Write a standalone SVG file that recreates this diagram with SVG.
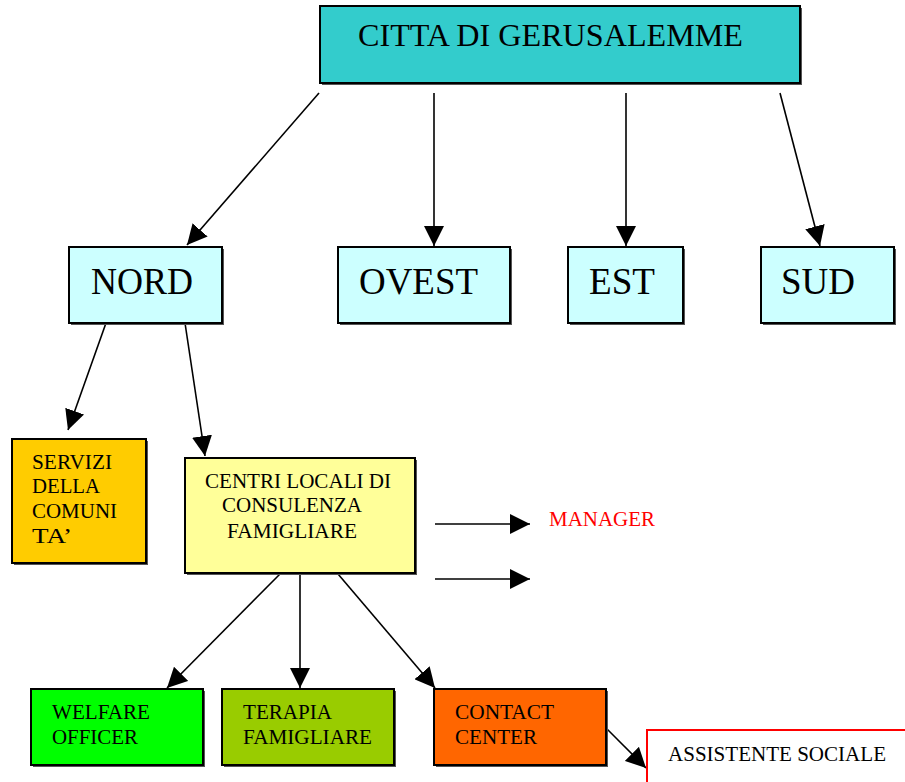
<svg xmlns="http://www.w3.org/2000/svg" width="905" height="782" viewBox="0 0 905 782">
  <defs>
    <marker id="arrow" viewBox="0 0 20 20" refX="20" refY="10" markerWidth="20" markerHeight="20" markerUnits="userSpaceOnUse" orient="auto">
      <path d="M0,0 L20,10 L0,20 Z" fill="#000"/>
    </marker>
  </defs>
  <style>
    .box { stroke: #000; stroke-width: 2; }
    .shadow { fill: #555; }
    text { font-family: "Liberation Serif", "Times New Roman", "DejaVu Serif", "Noto Serif", serif; fill: #000; }
    .big { font-size: 38px; }
    .title { font-size: 31px; }
    .small { font-size: 21px; }
    .edge { stroke: #000; stroke-width: 1.6; fill: none; marker-end: url(#arrow); }
  </style>
  <rect width="905" height="782" fill="#fff"/>

  <g id="connectors">
    <line class="edge" x1="319" y1="93" x2="187" y2="245"/>
    <line class="edge" x1="434" y1="93" x2="434" y2="246"/>
    <line class="edge" x1="626" y1="93" x2="626" y2="246"/>
    <line class="edge" x1="780" y1="93" x2="820" y2="246"/>
    <line class="edge" x1="106" y1="323" x2="68" y2="430"/>
    <line class="edge" x1="185" y1="323" x2="205" y2="456"/>
    <line class="edge" x1="280" y1="574" x2="167" y2="688"/>
    <line class="edge" x1="300" y1="574" x2="300" y2="688"/>
    <line class="edge" x1="338" y1="574" x2="435" y2="688"/>
    <line class="edge" x1="606" y1="728" x2="646" y2="768"/>
    <line class="edge" x1="435" y1="524" x2="530" y2="524"/>
    <line class="edge" x1="435" y1="579" x2="530" y2="579"/>
  </g>

  <g id="citta">
    <rect class="shadow" x="322" y="8" width="480" height="77"/>
    <rect class="box" x="320" y="6" width="480" height="77" fill="#33CCCC"/>
    <text class="title" x="358" y="46" textLength="385" lengthAdjust="spacingAndGlyphs">CITTA DI GERUSALEMME</text>
  </g>

  <g id="nord">
    <rect class="shadow" x="71" y="249" width="153" height="76"/>
    <rect class="box" x="69" y="247" width="153" height="76" fill="#CCFFFF"/>
    <text class="big" x="91" y="294" textLength="102" lengthAdjust="spacingAndGlyphs">NORD</text>
  </g>
  <g id="ovest">
    <rect class="shadow" x="340" y="249" width="172" height="76"/>
    <rect class="box" x="338" y="247" width="172" height="76" fill="#CCFFFF"/>
    <text class="big" x="359" y="294" textLength="119" lengthAdjust="spacingAndGlyphs">OVEST</text>
  </g>
  <g id="est">
    <rect class="shadow" x="570" y="249" width="115" height="76"/>
    <rect class="box" x="568" y="247" width="115" height="76" fill="#CCFFFF"/>
    <text class="big" x="589" y="294" textLength="66" lengthAdjust="spacingAndGlyphs">EST</text>
  </g>
  <g id="sud">
    <rect class="shadow" x="763" y="249" width="133" height="76"/>
    <rect class="box" x="761" y="247" width="133" height="76" fill="#CCFFFF"/>
    <text class="big" x="781" y="294" textLength="74" lengthAdjust="spacingAndGlyphs">SUD</text>
  </g>

  <g id="servizi">
    <rect class="shadow" x="14" y="441" width="134" height="124"/>
    <rect class="box" x="12" y="439" width="134" height="124" fill="#FFCC00"/>
    <text class="small" x="32" y="469" textLength="80" lengthAdjust="spacingAndGlyphs">SERVIZI</text>
    <text class="small" x="32" y="493" textLength="68" lengthAdjust="spacingAndGlyphs">DELLA</text>
    <text class="small" x="32" y="518" textLength="85" lengthAdjust="spacingAndGlyphs">COMUNI</text>
    <text class="small" x="32" y="543" textLength="40" lengthAdjust="spacingAndGlyphs">TA’</text>
  </g>

  <g id="centri">
    <rect class="shadow" x="187" y="460" width="230" height="115"/>
    <rect class="box" x="185" y="458" width="230" height="115" fill="#FFFF99"/>
    <text class="small" x="205" y="488" textLength="186" lengthAdjust="spacingAndGlyphs">CENTRI LOCALI DI</text>
    <text class="small" x="222" y="512" textLength="140" lengthAdjust="spacingAndGlyphs">CONSULENZA</text>
    <text class="small" x="227" y="538" textLength="130" lengthAdjust="spacingAndGlyphs">FAMIGLIARE</text>
  </g>

  <g id="manager">
    <text class="small" x="549" y="526" textLength="106" lengthAdjust="spacingAndGlyphs" style="fill:#FF0000">MANAGER</text>
  </g>

  <g id="welfare">
    <rect class="shadow" x="33" y="691" width="172" height="76"/>
    <rect class="box" x="31" y="689" width="172" height="76" fill="#00FF00"/>
    <text class="small" x="52" y="719" textLength="98" lengthAdjust="spacingAndGlyphs">WELFARE</text>
    <text class="small" x="52" y="744" textLength="86" lengthAdjust="spacingAndGlyphs">OFFICER</text>
  </g>
  <g id="terapia">
    <rect class="shadow" x="224" y="691" width="172" height="76"/>
    <rect class="box" x="222" y="689" width="172" height="76" fill="#99CC00"/>
    <text class="small" x="243" y="719" textLength="89" lengthAdjust="spacingAndGlyphs">TERAPIA</text>
    <text class="small" x="243" y="744" textLength="129" lengthAdjust="spacingAndGlyphs">FAMIGLIARE</text>
  </g>
  <g id="contact">
    <rect class="shadow" x="436" y="691" width="172" height="76"/>
    <rect class="box" x="434" y="689" width="172" height="76" fill="#FF6600"/>
    <text class="small" x="455" y="719" textLength="99" lengthAdjust="spacingAndGlyphs">CONTACT</text>
    <text class="small" x="455" y="744" textLength="82" lengthAdjust="spacingAndGlyphs">CENTER</text>
  </g>

  <g id="assistente">
    <rect x="647" y="730" width="270" height="70" fill="#fff" stroke="#FF0000" stroke-width="2"/>
    <text class="small" x="668" y="761" textLength="218" lengthAdjust="spacingAndGlyphs">ASSISTENTE SOCIALE</text>
  </g>
</svg>
